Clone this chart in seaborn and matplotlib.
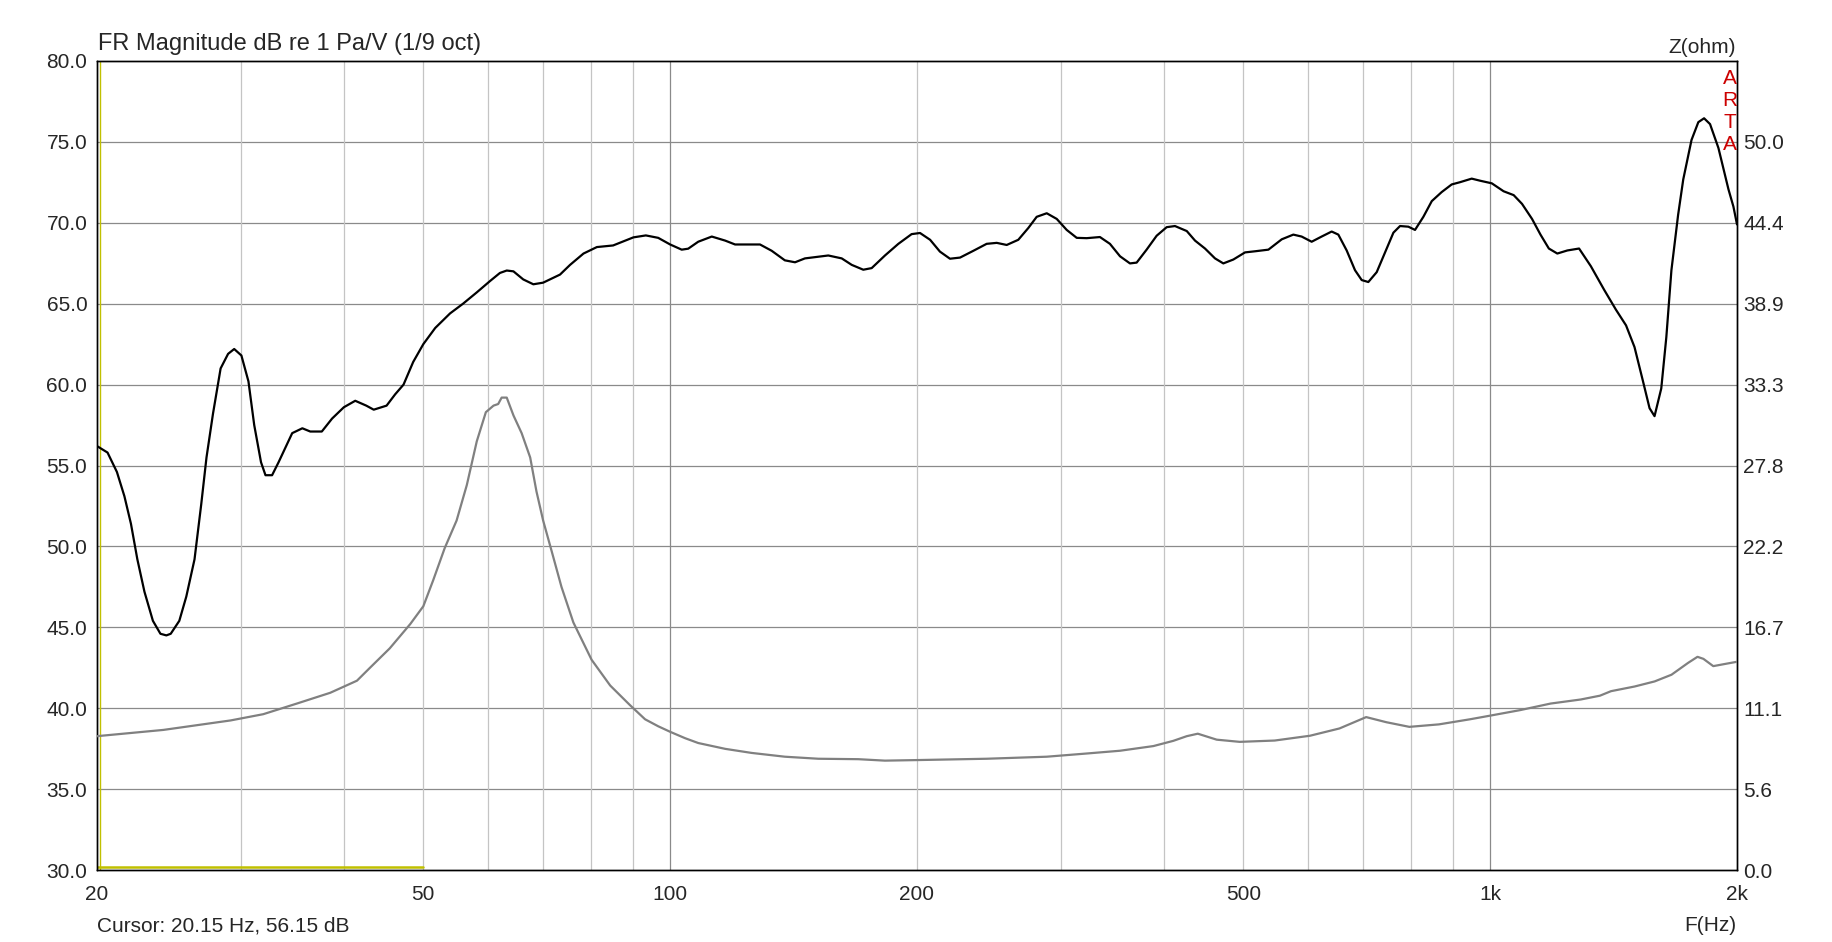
import matplotlib
matplotlib.use("Agg")
import matplotlib.pyplot as plt
import seaborn as sns

# Frequency response (black curve, left axis, dB)
fr_freq = [20.0, 20.6, 21.15, 21.6, 22.0, 22.4, 22.85, 23.4, 23.9, 24.3, 24.6, 25.2, 25.7,
           26.3, 26.8, 27.2, 27.7, 28.3, 28.9, 29.4, 30.0, 30.6, 31.1, 31.7, 32.1, 32.7,
           33.3, 34.6, 35.6, 36.4, 37.6, 38.7, 40.0, 41.3, 42.6, 43.5, 45.1, 46.2, 47.3,
           48.6, 50.0, 51.7, 53.9, 55.9, 58.1, 60.3, 62.0, 63.2, 64.4, 66.2, 68.1, 70.0,
           73.4, 75.5, 78.4, 81.4, 85.2, 90.2, 93.4, 96.7, 100.0, 103.3, 105.2, 108.2,
           112.4, 116.7, 120.0, 128.7, 133.0, 138.0, 142.0, 146.0, 155.9, 161.9, 166.5,
           172.0, 176.1, 182.8, 189.8, 197.0, 201.7, 207.5, 213.3, 219.4, 225.7, 234.3,
           243.2, 250.2, 257.3, 265.8, 273.4, 279.9, 287.9, 296.1, 304.5, 313.2, 322.1,
           334.3, 343.8, 353.7, 363.7, 370.6, 381.1, 392.0, 403.2, 412.7, 426.6, 436.6,
           449.0, 461.8, 472.7, 486.2, 502.4, 516.8, 536.5, 557.0, 575.4, 589.0, 605.8,
           623.0, 640.8, 652.9, 668.4, 684.2, 697.2, 710.3, 727.2, 744.4, 762.1, 776.4,
           794.8, 809.8, 829.0, 848.8, 872.8, 897.6, 918.9, 949.5, 972.4, 1004.6, 1038.4,
           1068.3, 1093.6, 1124.8, 1151.8, 1179.2, 1207.5, 1242.0, 1283.6, 1326.7, 1377.6,
           1423.6, 1464.6, 1499.8, 1535.4, 1564.6, 1586.6, 1616.8, 1640.0, 1663.6, 1695.2,
           1719.8, 1760.2, 1794.2, 1823.4, 1854.2, 1898.2, 1952.6, 1980.0, 2000.0]
fr_db = [56.2, 55.8, 54.6, 53.1, 51.4, 49.2, 47.2, 45.4, 44.6, 44.5, 44.6, 45.4, 46.9,
         49.2, 52.6, 55.5, 58.2, 61.0, 61.9, 62.2, 61.8, 60.2, 57.5, 55.2, 54.4, 54.4,
         55.2, 57.0, 57.3, 57.1, 57.1, 57.9, 58.6, 59.0, 58.7, 58.45, 58.7, 59.4, 60.0,
         61.4, 62.5, 63.5, 64.4, 65.0, 65.7, 66.4, 66.9, 67.05, 67.0, 66.5, 66.2, 66.3,
         66.8, 67.4, 68.1, 68.5, 68.6, 69.1, 69.22, 69.07, 68.66, 68.34, 68.4, 68.83,
         69.15, 68.9, 68.66, 68.66, 68.27, 67.68, 67.56, 67.8, 67.98, 67.8, 67.4,
         67.1, 67.2, 67.98, 68.7, 69.3, 69.37, 68.95, 68.22, 67.78, 67.85, 68.27,
         68.7, 68.76, 68.63, 68.95, 69.68, 70.37, 70.59, 70.24, 69.56, 69.07, 69.05,
         69.12, 68.7, 67.93, 67.49, 67.54, 68.34, 69.2, 69.73, 69.8, 69.49, 68.9,
         68.41, 67.8, 67.49, 67.73, 68.17, 68.24, 68.34, 68.98, 69.27, 69.15, 68.83,
         69.15, 69.46, 69.27, 68.29, 67.07, 66.46, 66.34, 66.95, 68.17, 69.39, 69.8,
         69.76, 69.56, 70.37, 71.34, 71.9, 72.37, 72.51, 72.73, 72.6, 72.44, 71.95,
         71.71, 71.17, 70.24, 69.27, 68.41, 68.1, 68.29, 68.41, 67.32, 65.85,
         64.63, 63.66, 62.32, 60.24, 58.54, 58.05, 59.76, 62.93, 67.07, 70.49,
         72.68, 75.12, 76.22, 76.46, 76.1, 74.63, 72.07, 71.0, 69.9]

# Impedance (grey curve, right axis, ohm)
z_freq = [20.0, 24.1, 29.1, 31.9, 35.1, 38.5, 41.5, 43.05, 45.5, 48.2, 50.0, 51.4, 53.1,
          54.9, 56.5, 58.1, 59.6, 60.9, 61.7, 62.3, 63.2, 64.4, 65.9, 67.5, 68.7, 70.0,
          71.7, 73.7, 76.2, 80.2, 84.5, 89.3, 93.2, 96.7, 100.0, 104.3, 108.2, 116.7,
          125.7, 138.0, 151.6, 169.6, 182.8, 200.7, 243.2, 287.9, 322.1, 353.7, 388.4,
          410.8, 426.6, 440.0, 464.0, 495.0, 546.0, 603.0, 655.0, 706.0, 747.0, 797.0,
          866.0, 945.0, 1000.0, 1088.0, 1185.0, 1290.0, 1361.0, 1404.0, 1500.0, 1587.0,
          1664.0, 1743.0, 1790.0, 1820.0, 1871.0, 1934.0, 2000.0]
z_ohm = [9.19, 9.62, 10.27, 10.70, 11.44, 12.17, 13.0, 13.89, 15.22, 16.89, 18.11, 19.89,
         22.11, 24.0, 26.44, 29.44, 31.44, 31.89, 32.0, 32.44, 32.44, 31.22, 30.0, 28.33,
         26.0, 24.0, 21.89, 19.44, 17.0, 14.44, 12.67, 11.33, 10.35, 9.87, 9.49, 9.05,
         8.72, 8.32, 8.04, 7.78, 7.64, 7.61, 7.51, 7.55, 7.64, 7.78, 8.0, 8.19, 8.51,
         8.87, 9.19, 9.36, 8.95, 8.8, 8.89, 9.22, 9.72, 10.5, 10.15, 9.83,
         10.0, 10.35, 10.6, 10.98, 11.43, 11.71, 11.97, 12.28, 12.6, 12.95,
         13.41, 14.22, 14.64, 14.5, 14.0, 14.15, 14.3]

x_ticks = [20, 50, 100, 200, 500, 1000, 2000]
x_tick_labels = ["20", "50", "100", "200", "500", "1k", "2k"]
db_ticks = [30, 35, 40, 45, 50, 55, 60, 65, 70, 75, 80]
z_top = 500 / 9
z_ticks = [i * z_top / 10 for i in range(10)]
z_tick_labels = ["0.0", "5.6", "11.1", "16.7", "22.2", "27.8", "33.3", "38.9", "44.4", "50.0"]
light_grid = [30, 40, 50, 60, 70, 80, 90, 200, 300, 400, 500, 600, 700, 800, 900]
dark_grid = [100, 1000]
cursor_freq = 20.15
cursor_text = "Cursor: 20.15 Hz, 56.15 dB"

sns.set_style("white")
plt.rcParams["font.family"] = ["Liberation Sans", "DejaVu Sans"]

W, H = 1833, 942
fig = plt.figure(figsize=(W / 100, H / 100), dpi=100, facecolor="white")
ax = fig.add_axes([97 / W, 1 - 870 / H, (1737 - 97) / W, (870 - 61) / H])

ax.set_xscale("log")
ax.set_xlim(20, 2000)
ax.set_ylim(30, 80)

# grid
for y in db_ticks[1:-1]:
    ax.axhline(y, color="#8a8a8a", lw=0.9, zorder=0)
for f in light_grid:
    ax.axvline(f, color="#c4c4c4", lw=0.9, zorder=0)
for f in dark_grid:
    ax.axvline(f, color="#8a8a8a", lw=0.9, zorder=0)

# cursor marks
ax.axvline(cursor_freq, color="#c0c000", lw=1.0, zorder=1)
ax.plot([20, 50], [30.2, 30.2], color="#c0c000", lw=1.8, zorder=1)

sns.lineplot(x=fr_freq, y=fr_db, ax=ax, color="black", lw=1.6, zorder=3)

ax2 = ax.twinx()
sns.lineplot(x=z_freq, y=z_ohm, ax=ax2, color="#808080", lw=1.6, zorder=3)
ax2.set_ylim(0, z_top)
ax2.set_xlim(20, 2000)

ax.set_xticks(x_ticks)
ax.set_xticklabels(x_tick_labels)
ax.xaxis.set_minor_locator(matplotlib.ticker.NullLocator())
ax.set_yticks(db_ticks)
ax.set_yticklabels([f"{v:.1f}" for v in db_ticks])
ax2.set_yticks(z_ticks)
ax2.set_yticklabels(z_tick_labels)

ax.tick_params(axis="x", length=0, pad=11, labelsize=15)
ax.tick_params(axis="y", length=0, pad=7, labelsize=15)
ax2.tick_params(axis="y", length=0, pad=4.5, labelsize=15)
ax.set_xlabel("")
ax.set_ylabel("")
ax2.set_ylabel("")

for a in (ax, ax2):
    for s in a.spines.values():
        s.set_color("black")
        s.set_linewidth(1.0)

# texts
fig.text(98 / W, 1 - 50 / H, "FR Magnitude dB re 1 Pa/V (1/9 oct)", fontsize=17,
         ha="left", va="baseline")
fig.text(1736 / W, 1 - 53 / H, "Z(ohm)", fontsize=15, ha="right", va="baseline")
for i, ch in enumerate("ARTA"):
    fig.text(1730 / W, 1 - (83.5 + 22 * i) / H, ch, fontsize=15, color="#cc0000",
             ha="center", va="baseline")
fig.text(97 / W, 1 - 931 / H, cursor_text, fontsize=15, ha="left", va="baseline")
fig.text(1736 / W, 1 - 931 / H, "F(Hz)", fontsize=15, ha="right", va="baseline")

fig.savefig("out.png", dpi=100, facecolor="white")
